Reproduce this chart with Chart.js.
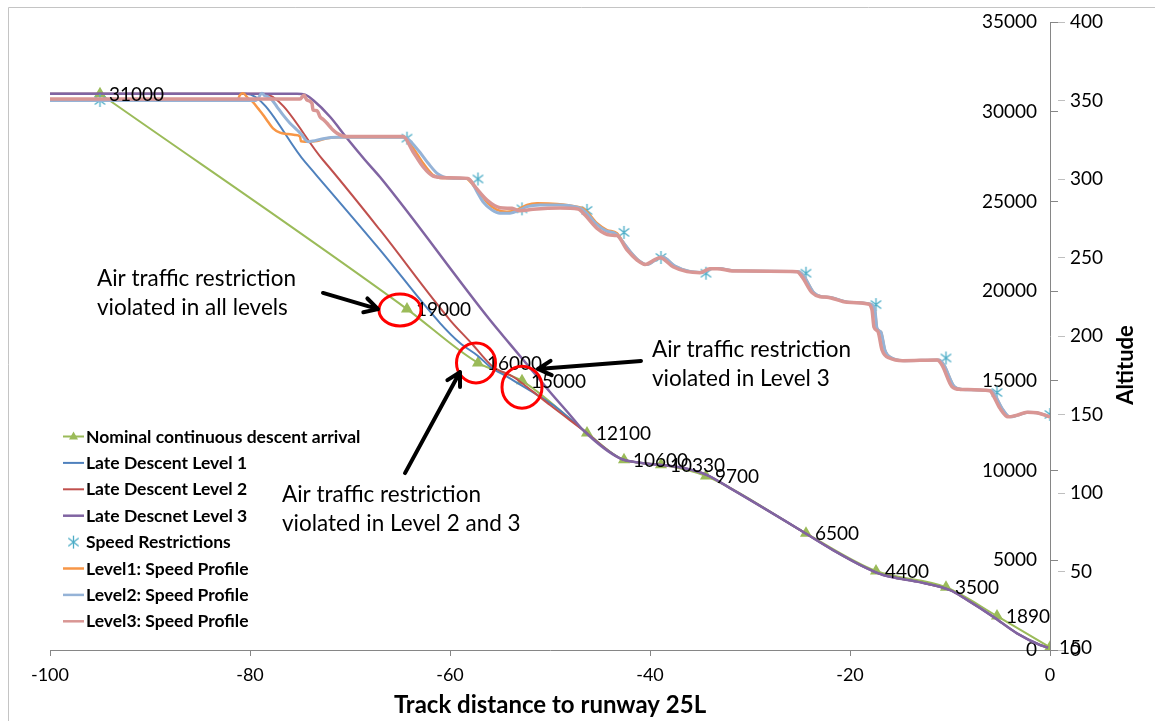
<!DOCTYPE html>
<html>
<head>
<meta charset="utf-8">
<title>Late descent vs. nominal continuous descent arrival</title>
<script src="https://cdn.jsdelivr.net/npm/chart.js@4.4.1/dist/chart.umd.min.js"></script>
<style>
  html, body { margin: 0; padding: 0; background: #fff; }
  #wrap { width: 1155px; height: 721px; }
</style>
</head>
<body>
<div id="wrap"><canvas id="descentChart" width="1155" height="721"></canvas></div>
<script>
// Nominal continuous descent arrival: track distance (NM) and altitude (ft)
const nominalDist = [-95, -64.3, -57.2, -52.8, -46.3, -42.6, -38.9, -34.4, -24.4, -17.4, -10.4, -5.3, 0];
const nominalAlt = [31000, 19000, 16000, 15000, 12100, 10600, 10330, 9700, 6500, 4400, 3500, 1890, 150];

// Speed restrictions (kt) at the same waypoints
const restrictDist = [-95, -64.3, -57.2, -52.8, -46.3, -42.6, -38.9, -34.4, -24.4, -17.4, -10.4, -5.3, 0];
const restrictSpeed = [350, 326, 300, 281, 280, 266, 250, 240, 240, 220, 186, 164, 150];

// Late descent altitude profiles
const late1Dist = [-100, -80.4, -74.5, -67, -61, -59, -57.2, -56, -54.3, -51, -49.3, -46.7, -43, -41, -37, -34.3, -31.7, -25, -21.7, -18.3, -16.7, -13.3, -10, -8.3, -5.7, -3.3, -1, -0.2];
const late1Alt = [31000, 31000, 27200, 22300, 18220, 17110, 16390, 15790, 15230, 14120, 13490, 12260, 10680, 10440, 10180, 9750, 8920, 6690, 5570, 4550, 4180, 3810, 3340, 2790, 1860, 930, 280, 130];

const late2Dist = [-100, -78.7, -72.7, -67, -60, -57.7, -56.7, -55.7, -53.7, -51.7, -50, -46.7, -43, -41, -37, -34.3, -31.7, -25, -21.7, -18.3, -16.7, -13.3, -10, -8.3, -5.7, -3.3, -1, -0.2];
const late2Alt = [31000, 31000, 27310, 23410, 18390, 17000, 16350, 15790, 15230, 14400, 13650, 12260, 10680, 10440, 10180, 9750, 8920, 6690, 5570, 4550, 4180, 3810, 3340, 2790, 1860, 930, 280, 130];

const late3Dist = [-100, -75.3, -74.5, -73.7, -72, -70.3, -68.5, -67, -56, -54, -52, -50, -48, -46.7, -43, -41, -37, -34.3, -31.7, -25, -21.7, -18.3, -16.7, -13.3, -10, -8.3, -5.7, -3.3, -1, -0.2];
const late3Alt = [31000, 31000, 30950, 30650, 29720, 28520, 27310, 26360, 18390, 17050, 15720, 14380, 13100, 12260, 10680, 10440, 10180, 9750, 8920, 6690, 5570, 4550, 4180, 3810, 3340, 2790, 1860, 930, 280, 130];

// Speed profiles (kt)
const speed1Dist = [-100, -81.3, -81, -80.7, -80.2, -79.7, -79.2, -78.7, -78.2, -77.7, -77, -76.3, -75.5, -75, -74.9, -74.5, -73.3, -72.3, -71, -64.6, -63.7, -62.7, -61.7, -60.7, -58.4, -57.7, -57, -56.2, -55.3, -54.3, -53.3, -52.3, -51.3, -49.3, -47.3, -46.7, -46, -45.3, -44.3, -43.3, -42.7, -42, -41.1, -40.3, -38.8, -37.5, -36.1, -34.8, -33.8, -33.1, -31.5, -25.1, -24.6, -23.6, -22.8, -22.1, -20.1, -18, -17.5, -17.3, -16.9, -16.5, -15.8, -14.5, -11.1, -10.6, -9.6, -8.8, -5.8, -5.5, -4.8, -4, -3.2, -2.2, -1.2, 0];
const speed1Kt = [350, 350, 353.5, 354.6, 351.4, 349, 345, 341, 336.5, 332.3, 329.5, 328.7, 328, 327, 324, 323.8, 324.2, 325.9, 326.6, 326.6, 319.8, 310.2, 302.6, 300.6, 300.3, 296.2, 290.9, 284.5, 280.3, 279.2, 280.3, 283.5, 284.5, 284.1, 282.4, 281.3, 277, 271.8, 267.5, 265.4, 260, 254, 248, 245.5, 250.5, 244.5, 241.2, 240.5, 243, 243, 241.5, 241, 238, 227.5, 225, 224.7, 221.5, 220.4, 216, 205, 202.5, 191, 186, 184.3, 184.7, 181.5, 168, 166, 165, 162.4, 154, 148.5, 149.6, 151.5, 151, 148.5];

const speed2Dist = [-100, -79.4, -78.8, -78.5, -78.2, -77.8, -77.3, -76.7, -76, -75.3, -74.8, -74.5, -74.2, -73.7, -72.7, -71.3, -64.6, -63.2, -62.2, -61.2, -60, -58.4, -58, -57.3, -56.7, -55.8, -55, -54, -53, -52.3, -51, -49, -47.3, -46.7, -46.1, -45.4, -44.4, -43.4, -42.6, -42, -41.1, -40.3, -38.8, -37.5, -36.1, -34.8, -33.8, -33.1, -31.5, -25.1, -24.6, -23.6, -22.8, -22.1, -20.1, -18, -17.5, -17.3, -16.9, -16.5, -15.8, -14.5, -11.1, -10.6, -9.6, -8.8, -5.8, -5.5, -4.8, -4, -3.2, -2.2, -1.2, 0];
const speed2Kt = [350, 350, 354.6, 352.9, 352.4, 350.3, 346, 340.8, 335.5, 331.2, 328, 325.3, 323.8, 324.2, 325.7, 326.6, 326.6, 318.5, 310.2, 303.2, 300.6, 300.3, 299.4, 291.9, 285.5, 280.2, 278.2, 278.2, 280.3, 282.4, 283.5, 283.5, 282, 280.3, 276.5, 271.5, 267, 265, 259, 254, 248, 245.5, 250.5, 244.5, 241.2, 240.5, 243, 243, 241.5, 241, 238, 227.5, 225, 224.7, 221.5, 220.4, 216, 205, 202.5, 191, 186, 184.3, 184.7, 181.5, 168, 166, 165, 162.4, 154, 148.5, 149.6, 151.5, 151, 148.5];

const speed3Dist = [-100, -75, -74.6, -74.3, -73.8, -73.7, -73.3, -73, -72.7, -72.3, -72, -71.7, -71.3, -70.7, -70, -64.7, -63.7, -62.7, -61.7, -60.3, -58.2, -57.5, -56.3, -55, -53.8, -53, -51.7, -49, -47.2, -46.5, -45.3, -44, -43.3, -42.3, -41.3, -40.5, -39, -37.7, -36.3, -35, -34, -33.3, -31.7, -25.3, -24.8, -23.8, -23, -22.3, -20.3, -18.2, -17.8, -17.6, -17.2, -16.8, -16, -14.7, -11.3, -10.8, -9.8, -9, -6, -5.7, -5, -4.2, -3.3, -2.3, -1.3, 0];
const speed3Kt = [351, 351, 353.3, 350.3, 348.2, 344, 343.5, 339.7, 338, 335.5, 333.3, 331.2, 329.1, 327.4, 327, 327, 317.4, 307.8, 301.9, 300.8, 300.4, 295.1, 286.6, 281.7, 281.3, 279.8, 280.7, 281.5, 280.9, 277, 268.6, 264.3, 263.9, 254.8, 248.4, 245.6, 249.9, 244.1, 241, 240.3, 242.9, 242.9, 241.4, 241, 237.8, 227.6, 225, 224.7, 221.5, 220.4, 216.6, 205.6, 202.8, 191.1, 185.8, 184.3, 184.7, 181.5, 167.7, 166, 165.1, 162.4, 153.9, 148.5, 149.6, 151.5, 151.1, 148.5];

// Callouts, placed in data units (distance, altitude)
const circleMarks = [
  { dist: -65, alt: 18950, rx: 21, ry: 16 },
  { dist: -57.4, alt: 16000, rx: 19.5, ry: 20 },
  { dist: -52.8, alt: 14650, rx: 20, ry: 21 },
];
const arrowMarks = [
  { from: [-72.7, 19900], to: [-67.2, 19000] },
  { from: [-64.5, 9860], to: [-59, 15490] },
  { from: [-40.9, 16110], to: [-51.2, 15660] },
];
const noteMarks = [
  { dist: -95.3, alt: 20680, lines: ["Air traffic restriction", "violated in all levels"] },
  { dist: -39.8, alt: 16720, lines: ["Air traffic restriction", "violated in Level 3"] },
  { dist: -76.8, alt: 8640, lines: ["Air traffic restriction", "violated in Level 2 and 3"] },
];

const FONT = 'Lato, "Open Sans", sans-serif';

function toPoints(xs, ys) {
  return xs.map((x, i) => ({ x: x, y: ys[i] }));
}

// Excel-like star marker: vertical stroke plus an X
function makeAsterisk(color, size) {
  const c = document.createElement("canvas");
  c.width = size;
  c.height = size;
  const g = c.getContext("2d");
  const m = size / 2;
  const r = size / 2 - 1;
  g.strokeStyle = color;
  g.lineWidth = 1.3;
  g.beginPath();
  g.moveTo(m, m - r);
  g.lineTo(m, m + r);
  g.moveTo(m - r * 0.8, m - r * 0.6);
  g.lineTo(m + r * 0.8, m + r * 0.6);
  g.moveTo(m - r * 0.8, m + r * 0.6);
  g.lineTo(m + r * 0.8, m - r * 0.6);
  g.stroke();
  return c;
}

const starMarker = makeAsterisk("#4BACC6", 15);

function drawArrow(ctx, x1, y1, x2, y2) {
  const ang = Math.atan2(y2 - y1, x2 - x1);
  const head = 15;
  ctx.save();
  ctx.strokeStyle = "#000";
  ctx.lineWidth = 4;
  ctx.lineCap = "round";
  ctx.lineJoin = "round";
  ctx.beginPath();
  ctx.moveTo(x1, y1);
  ctx.lineTo(x2, y2);
  ctx.moveTo(x2 - head * Math.cos(ang - 0.5), y2 - head * Math.sin(ang - 0.5));
  ctx.lineTo(x2, y2);
  ctx.lineTo(x2 - head * Math.cos(ang + 0.5), y2 - head * Math.sin(ang + 0.5));
  ctx.stroke();
  ctx.restore();
}

const overlayPlugin = {
  id: "overlay",
  beforeDraw(chart) {
    const ctx = chart.ctx;
    ctx.save();
    ctx.fillStyle = "#fff";
    ctx.fillRect(0, 0, chart.width, chart.height);
    ctx.strokeStyle = "#c4c4c4";
    ctx.lineWidth = 1;
    ctx.beginPath();
    ctx.moveTo(8.5, chart.height);
    ctx.lineTo(8.5, 7.5);
    ctx.lineTo(chart.width, 7.5);
    ctx.stroke();
    ctx.restore();
  },
  afterDatasetsDraw(chart) {
    const ctx = chart.ctx;
    const xs = chart.scales.x;
    const ys = chart.scales.y;
    ctx.save();

    // altitude labels on the nominal profile
    const meta = chart.getDatasetMeta(0);
    ctx.fillStyle = "#000";
    ctx.font = "19px " + FONT;
    ctx.textAlign = "left";
    ctx.textBaseline = "middle";
    meta.data.forEach((pt, i) => {
      ctx.fillText(String(nominalAlt[i]), pt.x + 9, pt.y + 1);
    });

    // red circles
    ctx.strokeStyle = "#FF0000";
    ctx.lineWidth = 3;
    circleMarks.forEach((c) => {
      ctx.beginPath();
      ctx.ellipse(xs.getPixelForValue(c.dist), ys.getPixelForValue(c.alt), c.rx, c.ry, 0, 0, Math.PI * 2);
      ctx.stroke();
    });

    // arrows
    arrowMarks.forEach((a) => {
      drawArrow(
        ctx,
        xs.getPixelForValue(a.from[0]), ys.getPixelForValue(a.from[1]),
        xs.getPixelForValue(a.to[0]), ys.getPixelForValue(a.to[1])
      );
    });

    // notes
    ctx.fillStyle = "#000";
    ctx.font = "22.5px " + FONT;
    ctx.textAlign = "left";
    ctx.textBaseline = "middle";
    noteMarks.forEach((n) => {
      const x = xs.getPixelForValue(n.dist);
      const y = ys.getPixelForValue(n.alt);
      n.lines.forEach((line, i) => ctx.fillText(line, x, y + i * 29));
    });

    // legend, inside the plot at the lower left
    const left = chart.chartArea.left + 13;
    let y = 436;
    ctx.font = "bold 17.5px " + FONT;
    chart.data.datasets.forEach((ds) => {
      if (ds.showLine !== false) {
        ctx.strokeStyle = ds.borderColor;
        ctx.lineWidth = ds.borderWidth > 2 ? 2.5 : 2;
        ctx.beginPath();
        ctx.moveTo(left, y + 0.5);
        ctx.lineTo(left + 21, y + 0.5);
        ctx.stroke();
      }
      if (ds.pointStyle === "triangle") {
        ctx.fillStyle = ds.backgroundColor;
        ctx.beginPath();
        ctx.moveTo(left + 10.5, y - 4.5);
        ctx.lineTo(left + 15, y + 3.5);
        ctx.lineTo(left + 6, y + 3.5);
        ctx.closePath();
        ctx.fill();
      } else if (ds.showLine === false) {
        ctx.drawImage(starMarker, left + 3, y - 7);
      }
      ctx.fillStyle = "#000";
      ctx.fillText(ds.label, left + 23, y + 1);
      y += 26.4;
    });

    // right axis title, reading bottom to top
    ctx.font = "bold 22px " + FONT;
    ctx.textAlign = "center";
    ctx.translate(1126, 365);
    ctx.rotate(-Math.PI / 2);
    ctx.fillText("Altitude", 0, 0);
    ctx.restore();
  },
};

const plainNumber = (v) => String(v);

new Chart(document.getElementById("descentChart"), {
  type: "line",
  data: {
    datasets: [
      {
        label: "Nominal continuous descent arrival",
        data: toPoints(nominalDist, nominalAlt),
        yAxisID: "y",
        borderColor: "#9BBB59",
        backgroundColor: "#9BBB59",
        borderWidth: 2,
        pointStyle: "triangle",
        pointRadius: 5,
        cubicInterpolationMode: "monotone",
        order: 8,
      },
      {
        label: "Late Descent Level 1",
        data: toPoints(late1Dist, late1Alt),
        yAxisID: "y",
        borderColor: "#4F81BD",
        borderWidth: 2,
        pointRadius: 0,
        cubicInterpolationMode: "monotone",
        order: 7,
      },
      {
        label: "Late Descent Level 2",
        data: toPoints(late2Dist, late2Alt),
        yAxisID: "y",
        borderColor: "#C0504D",
        borderWidth: 2,
        pointRadius: 0,
        cubicInterpolationMode: "monotone",
        order: 6,
      },
      {
        label: "Late Descnet Level 3",
        data: toPoints(late3Dist, late3Alt),
        yAxisID: "y",
        borderColor: "#8064A2",
        borderWidth: 2.5,
        pointRadius: 0,
        cubicInterpolationMode: "monotone",
        order: 5,
      },
      {
        label: "Speed Restrictions",
        data: toPoints(restrictDist, restrictSpeed),
        yAxisID: "y1",
        showLine: false,
        borderColor: "#4BACC6",
        pointStyle: starMarker,
        pointRadius: 7,
        order: 4,
      },
      {
        label: "Level1: Speed Profile",
        data: toPoints(speed1Dist, speed1Kt),
        yAxisID: "y1",
        borderColor: "#F79646",
        borderWidth: 2.5,
        pointRadius: 0,
        cubicInterpolationMode: "monotone",
        order: 3,
      },
      {
        label: "Level2: Speed Profile",
        data: toPoints(speed2Dist, speed2Kt),
        yAxisID: "y1",
        borderColor: "#95B3D7",
        borderWidth: 3,
        pointRadius: 0,
        cubicInterpolationMode: "monotone",
        order: 2,
      },
      {
        label: "Level3: Speed Profile",
        data: toPoints(speed3Dist, speed3Kt),
        yAxisID: "y1",
        borderColor: "#D99694",
        borderWidth: 3.5,
        pointRadius: 0,
        cubicInterpolationMode: "monotone",
        order: 1,
      },
    ],
  },
  options: {
    responsive: false,
    devicePixelRatio: 1,
    animation: false,
    layout: { padding: { left: 50, right: 37, top: 22, bottom: 0 } },
    plugins: {
      legend: { display: false },
      tooltip: { enabled: false },
    },
    scales: {
      x: {
        type: "linear",
        position: "bottom",
        min: -100,
        max: 0,
        ticks: {
          stepSize: 20,
          color: "#000",
          padding: 8,
          font: { family: FONT, size: 18 },
          callback: plainNumber,
        },
        grid: { drawOnChartArea: false, drawTicks: true, tickLength: 6, color: "#868686" },
        border: { display: true, color: "#868686" },
        title: {
          display: true,
          text: "Track distance to runway 25L",
          color: "#000",
          font: { family: FONT, size: 24, weight: "bold" },
          padding: { top: 0, bottom: 1 },
        },
        afterFit: (s) => { s.height = 71; },
      },
      y: {
        type: "linear",
        position: "right",
        weight: 0,
        min: 0,
        max: 35000,
        ticks: {
          stepSize: 5000,
          mirror: true,
          padding: -13,
          color: "#000",
          font: { family: FONT, size: 19 },
          callback: plainNumber,
        },
        grid: { drawOnChartArea: false, drawTicks: true, tickLength: 8, color: "#868686" },
        border: { display: true, color: "#868686" },
        afterFit: (s) => { s.width = 8; },
      },
      y1: {
        type: "linear",
        position: "right",
        weight: 1,
        min: 0,
        max: 400,
        ticks: {
          stepSize: 50,
          padding: 5,
          color: "#000",
          font: { family: FONT, size: 19 },
          callback: plainNumber,
        },
        grid: { drawOnChartArea: false, drawTicks: true, tickLength: 7, color: "#BFBFBF" },
        border: { display: false },
        afterFit: (s) => { s.width = 60; },
      },
    },
  },
  plugins: [overlayPlugin],
});
</script>
</body>
</html>
